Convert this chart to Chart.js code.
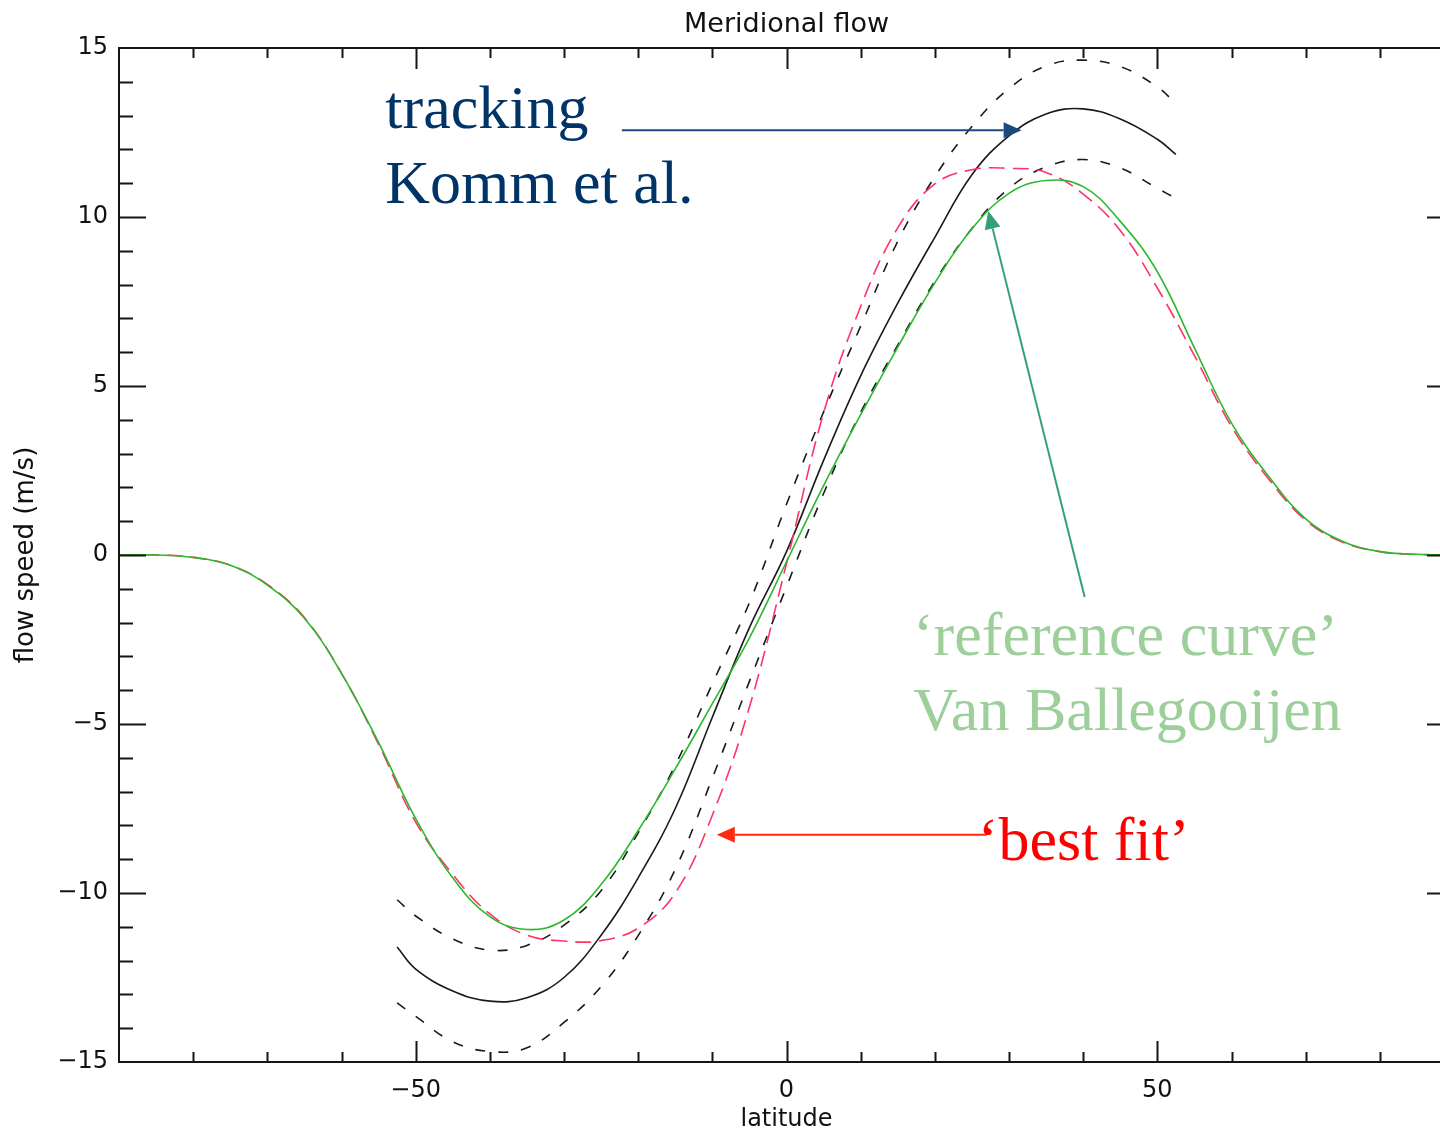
<!DOCTYPE html>
<html>
<head>
<meta charset="utf-8">
<title>Meridional flow</title>
<script src="https://cdn.jsdelivr.net/npm/chart.js@4.4.1/dist/chart.umd.min.js"></script>
<style>
  html, body { margin: 0; padding: 0; background: #fff; overflow: hidden; }
  canvas { display: block; }
</style>
</head>
<body>
<canvas id="flowChart" width="1470" height="1135"></canvas>
<script>
    // latitudes (deg) for the full profiles
    const latFull = [-90, -85, -80, -75, -70, -65, -60, -55, -50, -45, -40, -35, -30, -25, -20, -15, -10, -5, 0,
                     5, 10, 15, 20, 25, 30, 35, 40, 45, 50, 55, 60, 65, 70, 75, 80, 85, 90];
    // 'reference curve' Van Ballegooijen (green)
    const refCurve = [0, 0, -0.07, -0.3, -0.89, -1.87, -3.5, -5.55, -7.8, -9.55, -10.7, -11.08, -10.8, -9.75, -8.15, -6.33, -4.4, -2.45, -0.2,
                      2.05, 4.15, 6.15, 8.05, 9.65, 10.7, 11.08, 10.9, 9.87, 8.38, 6.13, 3.9, 2.33, 1.07, 0.4, 0.1, 0.02, 0];
    // 'best fit' (red dashed)
    const bestFit = [0, 0, -0.07, -0.3, -0.87, -1.85, -3.5, -5.6, -7.9, -9.45, -10.62, -11.25, -11.42, -11.41, -11.04, -10.0, -7.7, -4.5, -0.25,
                     4.2, 7.35, 9.68, 10.98, 11.4, 11.44, 11.32, 10.68, 9.6, 7.9, 5.9, 3.8, 2.25, 1.03, 0.38, 0.1, 0.02, 0];

    // tracking, Komm et al. (black, with upper / lower error curves)
    const latKomm = [-52.5, -50, -45, -40, -35, -30, -25, -20, -15, -10, -5, 0, 5, 10, 15, 20, 25, 30, 35, 40, 45, 50, 52.5];
    const kommMean = [-11.6, -12.25, -12.9, -13.2, -13.1, -12.5, -11.25, -9.55, -7.5, -4.8, -2.15, 0.1,
                      2.8, 5.3, 7.45, 9.4, 11.25, 12.4, 13.05, 13.2, 12.9, 12.3, 11.85];
    const kommUpper = [-10.2, -10.68, -11.36, -11.69, -11.55, -10.95, -9.93, -8.22, -6.22, -3.81, -1.41, 1.5,
                       4.23, 6.77, 9.28, 11.19, 12.68, 13.8, 14.47, 14.64, 14.45, 13.85, 13.35];
    const kommLower = [-13.25, -13.65, -14.4, -14.69, -14.58, -13.83, -12.77, -11.26, -9.3, -6.6, -3.74, -0.94,
                       1.82, 4.22, 6.21, 8.1, 9.66, 10.85, 11.48, 11.7, 11.45, 10.85, 10.55];

    // axis ticks
    const xTicks = [-50, 0, 50];
    const yTicks = [-15, -10, -5, 0, 5, 10, 15];
    const xMinorStep = 10;
    const yMinorStep = 1;

    const pts = (xs, ys) => xs.map((x, i) => ({ x: x, y: ys[i] }));
    const minus = v => (v < 0 ? '\u2212' + Math.abs(v) : String(v));

    // frame with inward ticks on all four sides, title, annotations
    const framePlugin = {
        id: 'frame',
        afterDraw(chart) {
            const { ctx, chartArea: a, scales: { x, y } } = chart;
            ctx.save();
            ctx.strokeStyle = '#151515';
            ctx.lineWidth = 2;
            ctx.strokeRect(a.left, a.top, a.right - a.left, a.bottom - a.top);
            ctx.beginPath();
            for (let v = x.min + xMinorStep; v < x.max; v += xMinorStep) {
                const px = Math.round(x.getPixelForValue(v)) + 0.5;
                const len = xTicks.includes(v) ? 21 : 10;
                ctx.moveTo(px, a.bottom); ctx.lineTo(px, a.bottom - len);
                ctx.moveTo(px, a.top); ctx.lineTo(px, a.top + len);
            }
            for (let v = y.min + yMinorStep; v < y.max; v += yMinorStep) {
                const py = Math.round(y.getPixelForValue(v)) + 0.5;
                const len = yTicks.includes(v) ? 27 : 14;
                ctx.moveTo(a.left, py); ctx.lineTo(a.left + len, py);
                ctx.moveTo(a.right, py); ctx.lineTo(a.right - len, py);
            }
            ctx.stroke();

            // title
            ctx.fillStyle = '#111';
            ctx.font = '27px "DejaVu Sans"';
            ctx.textAlign = 'center';
            ctx.textBaseline = 'middle';
            ctx.fillText('Meridional flow', (a.left + a.right) / 2, 25);

            // annotations
            const X = v => x.getPixelForValue(v);
            const Y = v => y.getPixelForValue(v);
            const arrow = (x1, y1, x2, y2, color) => {
                const ang = Math.atan2(y2 - y1, x2 - x1);
                const hl = 18, hw = 8;
                ctx.strokeStyle = color;
                ctx.fillStyle = color;
                ctx.lineWidth = 2;
                ctx.beginPath();
                ctx.moveTo(x1, y1);
                ctx.lineTo(x2 - hl * Math.cos(ang), y2 - hl * Math.sin(ang));
                ctx.stroke();
                ctx.beginPath();
                ctx.moveTo(x2, y2);
                ctx.lineTo(x2 - hl * Math.cos(ang) + hw * Math.sin(ang), y2 - hl * Math.sin(ang) - hw * Math.cos(ang));
                ctx.lineTo(x2 - hl * Math.cos(ang) - hw * Math.sin(ang), y2 - hl * Math.sin(ang) + hw * Math.cos(ang));
                ctx.closePath();
                ctx.fill();
            };
            arrow(X(-22.2), Y(12.57), X(31.7), Y(12.57), '#1b4a7c');
            arrow(X(40.2), Y(-1.24), X(27.2), Y(10.18), '#34a077');
            arrow(X(27.0), Y(-8.28), X(-9.4), Y(-8.28), '#ff2a10');

            ctx.font = '62px "Liberation Serif"';
            ctx.textAlign = 'left';
            ctx.textBaseline = 'alphabetic';
            ctx.fillStyle = '#003366';
            ctx.fillText('tracking', X(-54.1), Y(12.63));
            ctx.fillText('Komm et al.', X(-54.1), Y(10.41));
            ctx.fillStyle = '#9dcf9a';
            ctx.fillText('\u2018reference curve\u2019', X(17.05), Y(-2.96));
            ctx.fillText('Van Ballegooijen', X(17.05), Y(-5.18));
            ctx.fillStyle = '#ff0000';
            ctx.fillText('\u2018best fit\u2019', X(25.8), Y(-9.02));
            ctx.restore();
        }
    };

    const dataFlow = {
        datasets: [
            {
                label: 'reference curve',
                data: pts(latFull, refCurve),
                borderColor: '#2cb82c',
                borderWidth: 1.6,
                order: 0
            },
            {
                label: 'best fit',
                data: pts(latFull, bestFit),
                borderColor: '#ff3366',
                borderWidth: 1.6,
                borderDash: [16, 8],
                order: 1
            },
            {
                label: 'Komm et al.',
                data: pts(latKomm, kommMean),
                borderColor: '#1a1a1a',
                borderWidth: 1.6,
                order: 2
            },
            {
                label: 'Komm upper',
                data: pts(latKomm, kommUpper),
                borderColor: '#1a1a1a',
                borderWidth: 1.6,
                borderDash: [10, 13],
                order: 3
            },
            {
                label: 'Komm lower',
                data: pts(latKomm, kommLower),
                borderColor: '#1a1a1a',
                borderWidth: 1.6,
                borderDash: [10, 13],
                order: 4
            }
        ]
    };

    const configFlow = {
        type: 'line',
        data: dataFlow,
        options: {
            responsive: false,
            animation: false,
            devicePixelRatio: 1,
            elements: {
                point: { radius: 0 },
                line: { tension: 0.4, fill: false }
            },
            layout: {
                padding: { top: 48, right: 16, left: 0, bottom: 0 }
            },
            scales: {
                x: {
                    type: 'linear',
                    min: -90,
                    max: 90,
                    afterBuildTicks: s => { s.ticks = xTicks.map(v => ({ value: v })); },
                    afterFit: s => { s.height = 73; },
                    grid: { display: false, drawTicks: false },
                    border: { display: false },
                    ticks: {
                        autoSkip: false,
                        maxRotation: 0,
                        padding: 14,
                        color: '#111',
                        font: { family: 'DejaVu Sans', size: 24 },
                        callback: v => minus(v)
                    },
                    title: {
                        display: true,
                        text: 'latitude',
                        color: '#111',
                        font: { family: 'DejaVu Sans', size: 24 },
                        padding: { top: 0, bottom: 1 }
                    }
                },
                y: {
                    type: 'linear',
                    min: -15,
                    max: 15,
                    afterBuildTicks: s => { s.ticks = yTicks.map(v => ({ value: v })); },
                    afterFit: s => { s.width = 119; },
                    grid: { display: false, drawTicks: false },
                    border: { display: false },
                    ticks: {
                        autoSkip: false,
                        padding: 11,
                        color: '#111',
                        font: { family: 'DejaVu Sans', size: 24 },
                        callback: v => minus(v)
                    },
                    title: {
                        display: true,
                        text: 'flow speed (m/s)',
                        color: '#111',
                        font: { family: 'DejaVu Sans', size: 26 },
                        padding: { top: 11, bottom: 0 }
                    }
                }
            },
            plugins: {
                legend: { display: false },
                title: { display: false },
                tooltip: { enabled: false }
            }
        },
        plugins: [framePlugin]
    };

    const ctxFlow = document.getElementById('flowChart').getContext('2d');
    const graficoFlow = new Chart(ctxFlow, configFlow);
</script>
</body>
</html>
